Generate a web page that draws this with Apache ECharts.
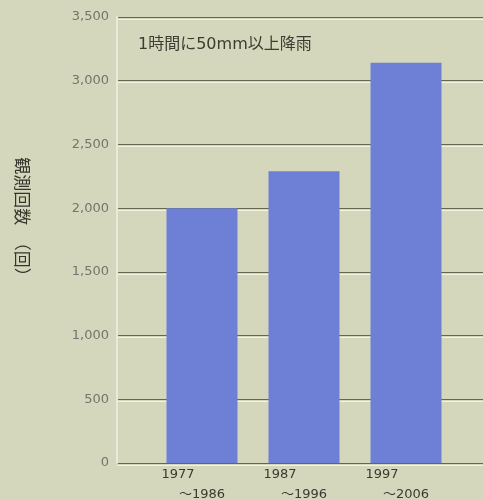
<!DOCTYPE html>
<html><head><meta charset="utf-8">
<script src="https://cdn.jsdelivr.net/npm/echarts@6/dist/echarts.min.js"></script>
<style>html,body{margin:0;padding:0;background:#d5d7bc}#c{width:483px;height:500px}</style>
</head><body><div id="c"></div>
<script>
const categories = ['1977～1986', '1987～1996', '1997～2006'];
const counts = [2000, 2290, 3140];
const yTicks = [0, 500, 1000, 1500, 2000, 2500, 3000, 3500];
const noteText = '1時間に50mm以上降雨';
const yName = '観測回数　（回）';

const chart = echarts.init(document.getElementById('c'));
const fam = '"DejaVu Sans", "Noto Sans CJK JP", sans-serif';
chart.setOption({
  backgroundColor: '#d5d7bc',
  animation: false,
  grid: [
    {left: 117, right: 0, top: 17, bottom: 37, outerBoundsMode: 'none', containLabel: false},
    {left: 151, right: 26, top: 17, bottom: 37, outerBoundsMode: 'none', containLabel: false}
  ],
  xAxis: [
    {gridIndex: 0, type: 'value', show: false, min: 0, max: 1},
    {gridIndex: 1, type: 'category', data: categories,
     axisLine: {show: false}, axisTick: {show: false},
     axisLabel: {
       margin: 2, fontFamily: fam, fontSize: 13, color: '#3a3a30', lineHeight: 20,
       formatter: function (v) {
         const p = v.split('～');
         return '{a|' + p[0] + '}\n{b|～' + p[1] + '}';
       },
       rich: {
         a: {padding: [0, 48, 0, 0], fontSize: 13, color: '#3a3a30', fontFamily: fam, lineHeight: 20},
         b: {fontSize: 13, color: '#3a3a30', fontFamily: fam, lineHeight: 20}
       }
     }}
  ],
  yAxis: [
    {gridIndex: 0, type: 'value', min: yTicks[0], max: yTicks[yTicks.length - 1], interval: 500,
     axisLine: {show: true, lineStyle: {color: '#e8eada', width: 2}},
     axisTick: {show: false},
     axisLabel: {margin: 8, fontFamily: fam, fontSize: 13, color: '#74746a',
       formatter: v => v.toLocaleString('en-US')},
     splitLine: {show: true, lineStyle: {color: '#66684c', width: 1,
       shadowColor: 'rgba(245,245,230,0.9)', shadowOffsetY: 2, shadowBlur: 0}}},
    {gridIndex: 1, type: 'value', min: yTicks[0], max: yTicks[yTicks.length - 1], show: false}
  ],
  graphic: [
    {type: 'text', left: 138, top: 37,
     style: {text: noteText, fontFamily: fam, fontSize: 16, fill: '#3c3c32'}},
    {type: 'text', x: 22, y: 221, rotation: -Math.PI / 2,
     style: {text: yName, fontFamily: '"Noto Sans CJK JP", sans-serif', fontSize: 17, fill: '#35352c',
       align: 'center', verticalAlign: 'middle'}}
  ],
  series: [{
    type: 'bar', xAxisIndex: 1, yAxisIndex: 1, data: counts, barWidth: 71,
    itemStyle: {color: '#6e7fd6'}
  }]
});
</script></body></html>
